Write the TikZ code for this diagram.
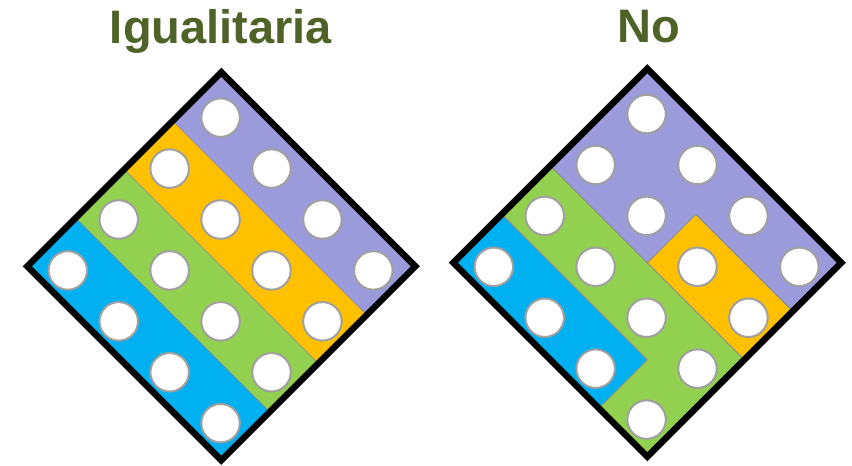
\documentclass[tikz,border=0pt]{standalone}
\usepackage{fontspec}
\setmainfont{Liberation Sans}
\usepackage{tikz}
\usetikzlibrary{positioning}
\definecolor{stripblue}{RGB}{0, 176, 240}
\definecolor{stripgreen}{RGB}{146, 208, 80}
\definecolor{striporange}{RGB}{255, 192, 0}
\definecolor{strippurple}{RGB}{155, 155, 220}
\definecolor{titlegreen}{RGB}{79, 98, 40}
\definecolor{holegray}{RGB}{160, 160, 160}

\begin{document}
\begin{tikzpicture}[
    x=1pt, y=1pt,
    title/.style={font=\fontsize{47}{52}\selectfont\bfseries, text=titlegreen, anchor=base, inner sep=0pt},
    region/.style={draw=black!45, line width=0.7pt},
    hole/.style={circle, draw=holegray, fill=white, line width=2pt, minimum size=38.5pt, inner sep=0pt},
    board/.style={draw=black, line width=6.5pt}
]
    \useasboundingbox (0,0) rectangle (852,-466);

    % Titles
    \node[title] (titleleft) at (221,-43.3) {Igualitaria};
    \node[title] (titleright) at (648.5,-42) {No};

    % Left board: equal stripes
    \begin{scope}[shift={(27.3,-266.3)}, x={(48.5pt,-48.5pt)}, y={(48.5pt,48.5pt)}]
        \fill[stripblue, region] (0,0) -- (4,0) -- (4,1) -- (0,1) -- cycle;
        \fill[stripgreen, region] (0,1) -- (4,1) -- (4,2) -- (0,2) -- cycle;
        \fill[striporange, region] (0,2) -- (4,2) -- (4,3) -- (0,3) -- cycle;
        \fill[strippurple, region] (0,3) -- (4,3) -- (4,4) -- (0,4) -- cycle;
        \foreach \c in {0,...,3}
            \foreach \r in {0,...,3}
                \node[hole] (lhole-\c-\r) at ({2.035+1.05*(\c-1.5)}, {1.95+1.05*(\r-1.5)}) {};
        \draw[board] (0,0) -- (4,0) -- (4,4) -- (0,4) -- cycle;
    \end{scope}

    % Right board: unequal parts
    \begin{scope}[shift={(453.3,-262.7)}, x={(48.5pt,-48.5pt)}, y={(48.5pt,48.5pt)}]
        \fill[stripblue, region] (0,0) -- (3,0) -- (3,1) -- (0,1) -- cycle;
        \fill[stripgreen, region] (0,1) -- (3,1) -- (3,0) -- (4,0) -- (4,2) -- (0,2) -- cycle;
        \fill[striporange, region] (2,2) -- (4,2) -- (4,3) -- (2,3) -- cycle;
        \fill[strippurple, region] (0,2) -- (2,2) -- (2,3) -- (4,3) -- (4,4) -- (0,4) -- cycle;
        \foreach \c in {0,...,3}
            \foreach \r in {0,...,3}
                \node[hole] (rhole-\c-\r) at ({2.035+1.05*(\c-1.5)}, {1.95+1.05*(\r-1.5)}) {};
        \draw[board] (0,0) -- (4,0) -- (4,4) -- (0,4) -- cycle;
    \end{scope}

\end{tikzpicture}
\end{document}
